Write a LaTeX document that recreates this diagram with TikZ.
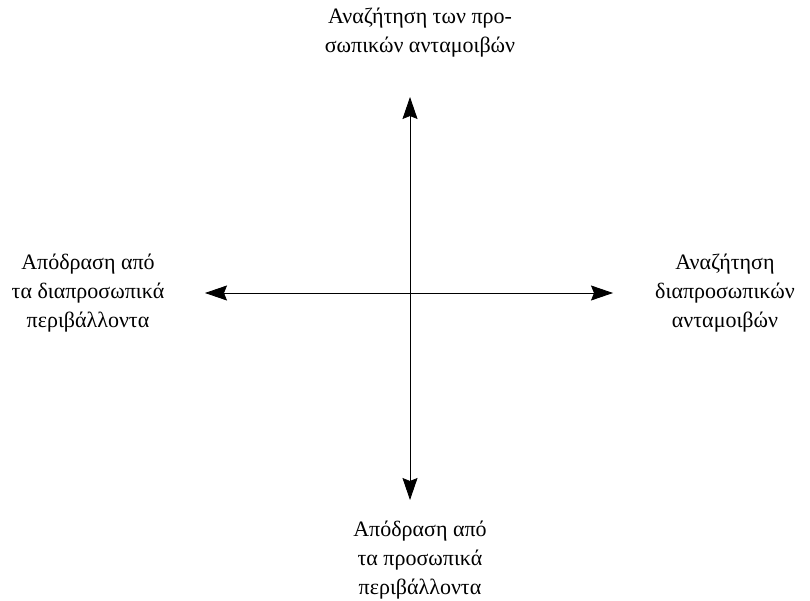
\documentclass[tikz,border=0pt]{standalone}
\usepackage{fontspec}
\setmainfont{Liberation Serif}
\usetikzlibrary{arrows.meta}
\tikzset{
    axis/.style={black,thick,-{Stealth[length=22pt,width=15pt,inset=3pt]}},
    pole label/.style={font={\fontsize{22}{29}\selectfont},align=center,inner sep=0pt},
}
\begin{document}
\begin{tikzpicture}[x=1pt,y=-1pt]
    \useasboundingbox (0,0) rectangle (810,601);
    % axes
    \coordinate (o) at (410,293);
    \coordinate (up) at (410,97);
    \coordinate (down) at (410,500);
    \coordinate (left) at (205,293);
    \coordinate (right) at (613,293);
    \draw[axis] (o) -- (up);
    \draw[axis] (o) -- (down);
    \draw[axis] (o) -- (left);
    \draw[axis] (o) -- (right);
    % labels
    \node[pole label] (top) at (420,33) {Αναζήτηση των προ-\\σωπικών ανταμοιβών};
    \node[pole label] (bottom) at (420,560) {Απόδραση από\\τα προσωπικά\\περιβάλλοντα};
    \node[pole label] (west) at (88,293) {Απόδραση από\\τα διαπροσωπικά\\περιβάλλοντα};
    \node[pole label] (east) at (725,293) {Αναζήτηση\\διαπροσωπικών\\ανταμοιβών};
\end{tikzpicture}
\end{document}
